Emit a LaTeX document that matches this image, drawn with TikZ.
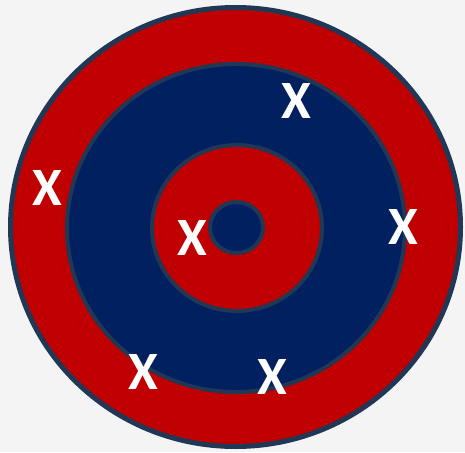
\documentclass[tikz,border=0pt]{standalone}
\usepackage{fontspec}
\setmainfont{Carlito}
\definecolor{bgc}{HTML}{F4F4F4}
\definecolor{ringred}{HTML}{C00000}
\definecolor{ringblue}{HTML}{002060}
\definecolor{edgec}{HTML}{203856}
\begin{document}
\begin{tikzpicture}[x=1pt,y=-1pt,
  ring/.style={draw=edgec,line width=4pt},
  xmark/.style={text=white,font=\fontsize{54}{54}\selectfont\bfseries,inner sep=0pt}]
\useasboundingbox (0,0) rectangle (465,452);
\fill[bgc] (0,0) rectangle (465,452);
\filldraw[ring,fill=ringred,line width=5pt] (235.5,227) ellipse [x radius=225,y radius=219.5];
\filldraw[ring,fill=ringblue] (236,228) ellipse [x radius=169,y radius=164];
\filldraw[ring,fill=ringred] (237,228) ellipse [x radius=85,y radius=83];
\filldraw[ring,fill=ringblue] (236.5,227.5) ellipse [x radius=26.5,y radius=25.5];
\node[xmark] (x1) at (296,101) {X};
\node[xmark] (x2) at (47,188) {X};
\node[xmark] (x3) at (403,227) {X};
\node[xmark] (x4) at (192,238) {X};
\node[xmark] (x5) at (143,372) {X};
\node[xmark] (x6) at (272,377) {X};
\end{tikzpicture}
\end{document}
